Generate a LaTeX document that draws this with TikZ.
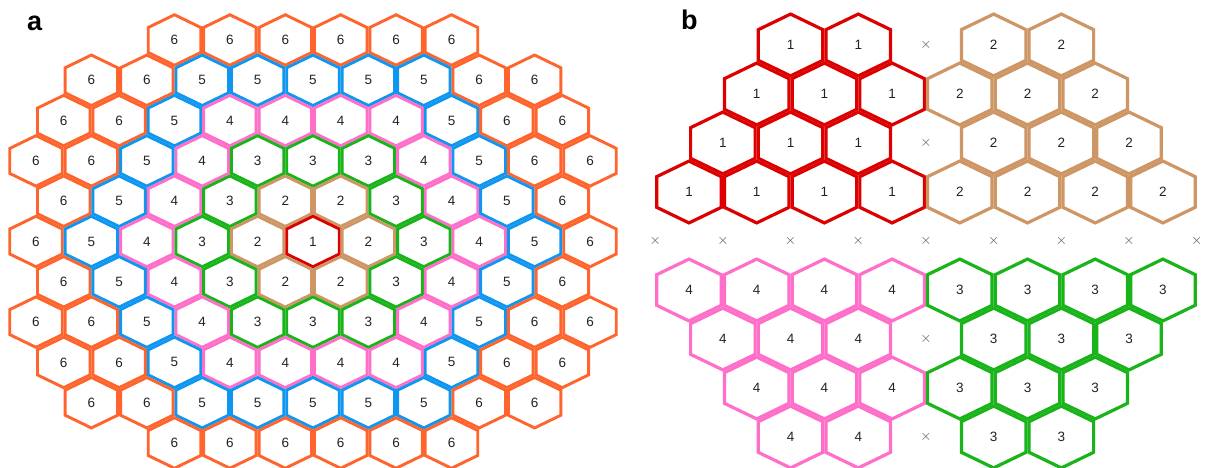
\documentclass[tikz,border=0pt]{standalone}
\usepackage{fontspec}
\setmainfont{Liberation Sans}
\definecolor{c1}{RGB}{220,0,0}
\definecolor{c2}{RGB}{205,150,100}
\definecolor{c3}{RGB}{25,180,25}
\definecolor{c4}{RGB}{255,110,200}
\definecolor{c5}{RGB}{15,150,240}
\definecolor{c6}{RGB}{255,100,45}
\definecolor{txt}{RGB}{35,35,35}
\definecolor{xgray}{RGB}{80,80,80}
\newcommand\hexcell[7]{%
  \begin{scope}[shift={(#1,#2)}]
    \clip[#6];
    \draw[#6, draw=#3, line width=#7];
  \end{scope}
  \node[digit] (#5) at (#1,#2) {#4};}
\newcommand\bcells[3]{%
  \foreach \row/\k [count=\i] in {#3}{%
    \pgfmathsetmacro\cx{689+67.7*\k}%
    \pgfmathsetmacro\cy{45+49*\row}%
    \hexcell{\cx}{\cy}{#2}{#1}{b#1-\i}{hexBpath}{6.4pt}}}
\begin{document}
\begin{tikzpicture}[x=1pt,y=-1pt,
  digit/.style={font=\fontsize{13.5}{14}\selectfont, text=txt, inner sep=0pt},
  xmark/.style={font=\fontsize{15}{16}\selectfont, text=xgray, inner sep=0pt},
  panellabel/.style={font=\fontsize{27}{30}\selectfont\bfseries, anchor=base west, inner sep=0pt},
  hexApath/.style={insert path={(0,-26.85) -- (27.7,-13.43) -- (27.7,13.43) -- (0,26.85) -- (-27.7,13.43) -- (-27.7,-13.43) -- cycle}},
  hexBpath/.style={insert path={(0,-32.7) -- (33.85,-16.35) -- (33.85,16.35) -- (0,32.7) -- (-33.85,16.35) -- (-33.85,-16.35) -- cycle}}]
\useasboundingbox[fill=white] (0,0) rectangle (1205,468);

% panel a
\foreach \r/\m in {-5/5,-4/8,-3/9,-2/10,-1/9,0/10,1/9,2/10,3/9,4/8,5/5}{
  \pgfmathtruncatemacro\st{-\m}
  \pgfmathtruncatemacro\nx{-\m+2}
  \foreach \xh in {\st,\nx,...,\m}{
    \pgfmathtruncatemacro\dd{max(abs(\r),(abs(\xh)+abs(\r))/2)}
    \pgfmathtruncatemacro\lab{min(\dd+1,6)}
    \pgfmathsetmacro\cx{313+27.7*\xh}
    \pgfmathsetmacro\cy{241.5+40.3*\r}
    \hexcell{\cx}{\cy}{c\lab}{\lab}{a\r-\xh}{hexApath}{5.8pt}
  }
}

% panel b
\bcells{1}{c1}{0/1.5,0/2.5,1/1,1/2,1/3,2/0.5,2/1.5,2/2.5,3/0,3/1,3/2,3/3}
\bcells{2}{c2}{0/4.5,0/5.5,1/4,1/5,1/6,2/4.5,2/5.5,2/6.5,3/4,3/5,3/6,3/7}
\bcells{4}{c4}{5/0,5/1,5/2,5/3,6/0.5,6/1.5,6/2.5,7/1,7/2,7/3,8/1.5,8/2.5}
\bcells{3}{c3}{5/4,5/5,5/6,5/7,6/4.5,6/5.5,6/6.5,7/4,7/5,7/6,8/4.5,8/5.5}

\foreach \row/\k [count=\i] in {0/3.5,2/3.5,4/-0.5,4/0.5,4/1.5,4/2.5,4/3.5,4/4.5,4/5.5,4/6.5,4/7.5,6/3.5,8/3.5}{
  \pgfmathsetmacro\cx{689+67.7*\k}
  \pgfmathsetmacro\cy{45+49*\row}
  \node[xmark] (x\i) at (\cx,\cy) {$\times$};
}

\node[panellabel] (la) at (27,30.5) {a};
\node[panellabel] (lb) at (681,30) {b};
\end{tikzpicture}
\end{document}
